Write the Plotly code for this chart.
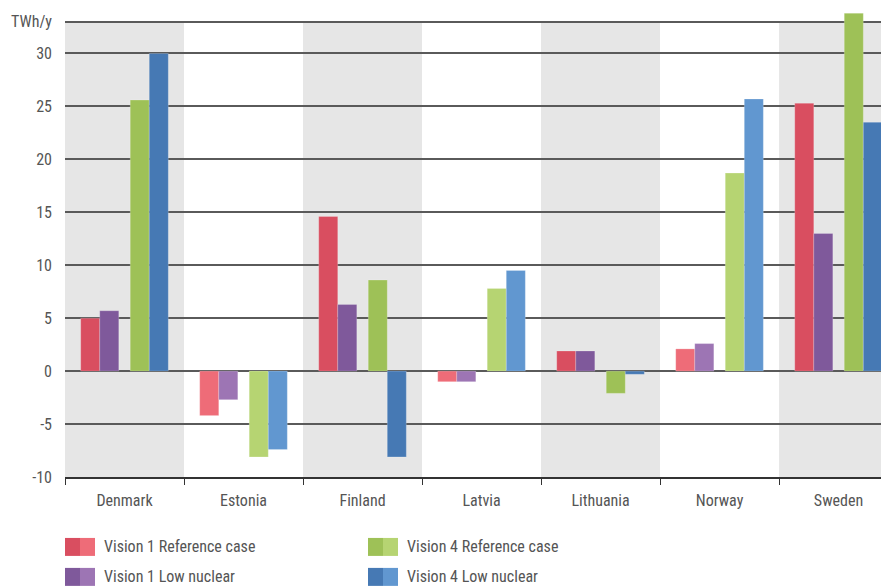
import plotly.graph_objects as go

countries = ["Denmark", "Estonia", "Finland", "Latvia", "Lithuania", "Norway", "Sweden"]
v1_ref = [5.0, -4.2, 14.6, -1.0, 1.9, 2.1, 25.3]
v1_low = [5.7, -2.7, 6.3, -1.0, 1.9, 2.6, 13.0]
v4_ref = [25.6, -8.1, 8.6, 7.8, -2.1, 18.7, 33.8]
v4_low = [30.0, -7.4, -8.1, 9.5, -0.3, 25.7, 23.5]
series_names = ["Vision 1 Reference case", "Vision 1 Low nuclear",
                "Vision 4 Reference case", "Vision 4 Low nuclear"]
y_ticks = [-10, -5, 0, 5, 10, 15, 20, 25, 30, 33]
y_tick_text = ["-10", "-5", "0", "5", "10", "15", "20", "25", "30", "TWh/y"]

dark = ["#d94e60", "#7f599b", "#9ec157", "#4679b4"]
light = ["#ee6c78", "#9d75b4", "#b6d472", "#6197d0"]
offsets = [-0.368, -0.208, 0.048, 0.208]
bar_w = 0.16
FONT = "Liberation Sans Narrow, Roboto Condensed, Arial Narrow, Roboto, sans-serif"

# the page body adds an 8px margin; the figure is sized to fill the rest of the window
PAGE = 8
W, H = 889 - PAGE, 586 - PAGE

fig = go.Figure()
for i, (name, vals) in enumerate(zip(series_names, [v1_ref, v1_low, v4_ref, v4_low])):
    cols = [dark[i] if k % 2 == 0 else light[i] for k in range(len(countries))]
    fig.add_trace(go.Bar(
        x=countries, y=vals, name=name, width=bar_w, offset=offsets[i],
        marker=dict(color=cols, line=dict(color="rgba(255,255,255,0.35)", width=0.6)),
        showlegend=False,
    ))

shapes = []
for k in range(0, len(countries), 2):
    shapes.append(dict(type="rect", xref="x", yref="y", x0=k - 0.5, x1=k + 0.5,
                       y0=-10, y1=33, fillcolor="#e6e6e6", line_width=0, layer="below"))

# plot area in window pixels
L, R, T, B = 65, 889, 8.5, 477
def px(x):
    return (x - L) / (R - L)
def py(y):
    return (B - y) / (B - T)

annotations = []
leg_pos = [(65, 538), (65, 568), (368, 538), (368, 568)]
for i, name in enumerate(series_names):
    x0, y0 = leg_pos[i]
    shapes.append(dict(type="rect", xref="paper", yref="paper", x0=px(x0), x1=px(x0 + 15),
                       y0=py(y0 + 18), y1=py(y0), fillcolor=dark[i], line_width=0))
    shapes.append(dict(type="rect", xref="paper", yref="paper", x0=px(x0 + 15), x1=px(x0 + 30),
                       y0=py(y0 + 18), y1=py(y0), fillcolor=light[i], line_width=0))
    annotations.append(dict(text=name, xref="paper", yref="paper", x=px(x0 + 37), y=py(y0 + 9),
                            xanchor="left", yanchor="middle", showarrow=False,
                            font=dict(family=FONT, size=16, color="#555555")))

fig.update_layout(
    width=W, height=H,
    margin=dict(l=L - PAGE, r=0, t=T - PAGE, b=586 - B),
    plot_bgcolor="white", paper_bgcolor="white",
    barmode="overlay",
    shapes=shapes, annotations=annotations,
    font=dict(family=FONT, size=16, color="#555555"),
    xaxis=dict(range=[-0.5, 6.424], tickson="boundaries", ticks="outside", ticklen=6,
               tickcolor="#333333", showline=True, linecolor="#333333", linewidth=1.5,
               showgrid=False, tickfont=dict(size=16, color="#555555"),
               ticklabelstandoff=8, fixedrange=True),
    yaxis=dict(range=[-10, 34.2], tickvals=y_ticks, ticktext=y_tick_text,
               showgrid=True, gridcolor="#5a5a5a", gridwidth=1.5, zeroline=False,
               ticks="", tickfont=dict(size=16, color="#555555"), ticklabelstandoff=12,
               showline=False),
)

fig.write_html("out.html")
